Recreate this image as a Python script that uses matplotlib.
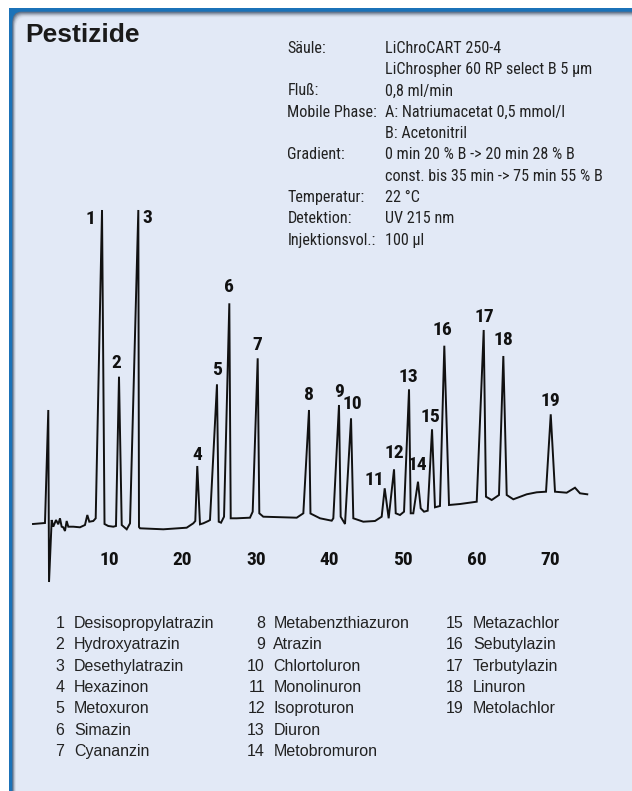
import matplotlib
matplotlib.use("Agg")
import matplotlib.pyplot as plt
from matplotlib.patches import Rectangle, FancyBboxPatch
from matplotlib import font_manager as fm

# ---------------- data ----------------
# chromatogram trace vertices: retention time (min) and detector signal (arb. units)
trace_time = [-0.34, 1.29, 1.74, 1.84, 2.20, 2.42, 2.79, 3.10, 3.33, 3.56, 3.78, 4.01, 4.24, 4.46,
              5.14, 6.05, 6.73, 7.05, 7.32, 7.86, 8.19,
              9.05, 9.39, 9.90, 10.59,
              10.95, 11.36, 11.73, 12.41, 12.86,
              13.99, 14.08, 14.22, 17.39, 20.57, 21.47,
              21.74, 22.01, 22.38, 22.83, 23.51,
              23.74, 24.69, 24.93, 25.24,
              25.65, 26.37, 26.56, 27.37, 29.18, 29.55,
              30.23, 30.45, 30.99, 35.54, 36.44,
              37.21, 37.41, 38.71, 40.30, 40.52,
              41.29, 41.52, 42.11,
              42.93, 43.24, 44.60, 46.19, 47.10,
              47.51, 48.05,
              48.78, 49.01, 49.59, 50.14,
              50.82, 51.05, 51.40,
              52.04, 52.41, 52.86, 53.36,
              53.95, 54.35, 55.03,
              55.62, 56.26, 57.76, 60.03,
              60.98, 61.29, 62.07, 63.06,
              63.65, 64.11, 65.01, 66.83, 68.19, 69.46,
              70.10, 70.68, 72.27, 73.40, 74.08, 75.07]
trace_signal = [6, 7, 120, -52, 10, 3.3, 10, 5.7, 11.7, 3.3, 2.7, -1, 9, 3.3,
                3.3, 2.7, 5, 15, 8.3, 9, 11.7,
                320, 6, 4, 3.3,
                4, 153.3, 5, 0.7, 6.7,
                320, 3, 1.7, 0.7, 2.3, 6.7,
                9, 64, 5.7, 6.7, 9,
                10, 145.7, 8.3, 7.3,
                13.3, 226.7, 11.7, 11.7, 12.3, 18.3,
                171.7, 16.7, 13.3, 12.3, 16.7,
                120, 16.5, 11.7, 9.3, 11.7,
                125, 13.3, 6,
                111.7, 11.7, 8.3, 9, 13.3,
                41.7, 11.7,
                60.7, 16.7, 15, 18.3,
                140.7, 16.7, 16.7,
                48.3, 21.7, 18.3, 19.3,
                100.7, 22.7, 24,
                184.3, 25, 26, 28.3,
                200, 33.3, 30, 35,
                174, 35, 30.7, 35.7, 37.7, 38.3,
                115.7, 38.3, 37.3, 42.3, 36.7, 35.7]

peak_numbers = list(range(1, 20))
compounds = ["Desisopropylatrazin", "Hydroxyatrazin", "Desethylatrazin", "Hexazinon",
             "Metoxuron", "Simazin", "Cyananzin", "Metabenzthiazuron", "Atrazin",
             "Chlortoluron", "Monolinuron", "Isoproturon", "Diuron", "Metobromuron",
             "Metazachlor", "Sebutylazin", "Terbutylazin", "Linuron", "Metolachlor"]
time_ticks = [10, 20, 30, 40, 50, 60, 70]

info_labels = ["Säule:", "", "Fluß:", "Mobile Phase:", "", "Gradient:", "",
               "Temperatur:", "Detektion:", "Injektionsvol.:"]
info_values = ["LiChroCART 250-4", "LiChrospher 60 RP select B 5 µm", "0,8 ml/min",
               "A: Natriumacetat 0,5 mmol/l", "B: Acetonitril",
               "0 min 20 % B -> 20 min 28 % B", "const. bis 35 min -> 75 min 55 % B",
               "22 °C", "UV 215 nm", "100 µl"]
title = "Pestizide"

# ---------------- fonts ----------------
def find_condensed(bold):
    best = None
    for f in fm.fontManager.ttflist:
        name = f.name.lower()
        narrow = ("condensed" in name or "narrow" in name
                  or str(f.stretch) in ("condensed", "semi-condensed", "600", "700")
                  or "condensed" in f.fname.lower() or "narrow" in f.fname.lower())
        if not narrow or f.style != "normal":
            continue
        w = f.weight if isinstance(f.weight, int) else (700 if f.weight == "bold" else 400)
        if bold and w < 600:
            continue
        if not bold and not (350 <= w <= 500):
            continue
        rank = 0 if "liberation" in name else (1 if "roboto" in name else 2)
        if best is None or rank < best[0]:
            best = (rank, f.fname)
    return best[1] if best else None

cond_reg = find_condensed(False)
cond_bold = find_condensed(True)

def fp_narrow(size, bold=False):
    path = cond_bold if bold else cond_reg
    if path:
        return fm.FontProperties(fname=path, size=size)
    return fm.FontProperties(family=["Liberation Sans", "DejaVu Sans"], size=size * 0.9,
                             weight="bold" if bold else "normal")

REG = ["Liberation Sans", "DejaVu Sans"]

# ---------------- layout ----------------
W, H = 632, 791
BG = "#e2e9f6"
BLUE = "#1b72b8"

# label positions (time, signal) for peak numbers
label_pos = [(7.41, 310.7), (10.95, 166.7), (15.21, 311.7), (22.07, 75), (24.69, 160),
             (26.29, 243.3), (30.23, 185), (37.25, 135), (41.33, 138.3), (43.10, 125.7),
             (46.05, 50), (48.78, 76.7), (50.78, 153.3), (52.0, 65), (53.67, 113.3),
             (55.40, 200), (61.06, 213.3), (63.65, 190), (70.0, 129.3)]

fig = plt.figure(figsize=(W / 100, H / 100), dpi=100)
fig.patch.set_facecolor("white")

def fx(px):
    return px / W

def fy(py):
    return 1 - py / H

# frame: blue band, shadow, light panel with rounded corner
fig.patches.append(Rectangle((fx(9.3), -0.1), 1.2, fy(8.3) + 0.1, transform=fig.transFigure,
                             facecolor=BLUE, edgecolor="none", zorder=-10))
shadow = ["#5f6f86", "#7d8a9d", "#9aa5b6", "#b6bfcd", "#ccd4e1", "#d9e0ed"]
for i, c in enumerate(shadow):
    fig.patches.append(FancyBboxPatch((fx(12.3 + i * 0.6), -0.1), 1.2, fy(11.7 + i * 0.9) + 0.1,
                                      boxstyle="round,pad=0,rounding_size=0.014",
                                      transform=fig.transFigure, facecolor=c,
                                      edgecolor="none", zorder=-9 + i * 0.01))
fig.patches.append(FancyBboxPatch((fx(16), -0.1), 1.2, fy(17.2) + 0.1,
                                  boxstyle="round,pad=0,rounding_size=0.014",
                                  transform=fig.transFigure, facecolor=BG,
                                  edgecolor="none", zorder=-8))

# title
fig.text(fx(25), fy(42), title, fontsize=19, fontweight="bold", family=REG,
         color="#1a1a1a", va="baseline", ha="left")

# info block
for i, (lab, val) in enumerate(zip(info_labels, info_values)):
    y = fy(48.3 + i * 21.3)
    if lab:
        fig.text(fx(287.3), y, lab, fontproperties=fp_narrow(11.6), color="#222222",
                 va="center", ha="left")
    fig.text(fx(385), y, val, fontproperties=fp_narrow(11.6), color="#222222",
             va="center", ha="left")

# chromatogram axes: time axis maps linearly to width
ax = fig.add_axes([fx(20.8), fy(600), (608.8 - 20.8) / W, 400 / H], zorder=5)
ax.set_xlim(-2, 78)
ax.set_ylim(-70, 330)
ax.axis("off")
ax.plot(trace_time, trace_signal, color="#111111", lw=1.4, solid_joinstyle="miter",
        clip_on=False)

for n, (t, s) in zip(peak_numbers, label_pos):
    ax.text(t, s, str(n), fontproperties=fp_narrow(14, True),
            color="#111111", ha="center", va="center", clip_on=False)

for t in time_ticks:
    ax.text(t, -30, str(t), fontproperties=fp_narrow(14, True),
            color="#111111", ha="center", va="center", clip_on=False)

# compound legend in three columns
cols = [(64.5, 73.8), (265, 273.4), (463.7, 473)]
for i, (n, name) in enumerate(zip(peak_numbers, compounds)):
    c = 0 if i < 7 else (1 if i < 14 else 2)
    r = i if c == 0 else (i - 7 if c == 1 else i - 14)
    numx, namex = cols[c]
    y = fy(623.3 + r * 21.4)
    fig.text(fx(numx), y, str(n), fontsize=11.5, family=REG, color="#222222",
             ha="right", va="center")
    fig.text(fx(namex), y, name, fontsize=11.5, family=REG, color="#222222",
             ha="left", va="center")

fig.savefig("out.png", dpi=100, facecolor=fig.get_facecolor())
